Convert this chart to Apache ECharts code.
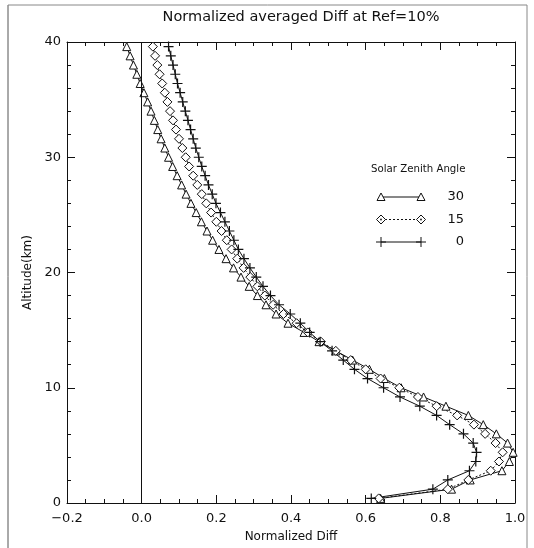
<!DOCTYPE html>
<html>
<head>
<meta charset="utf-8">
<script src="https://cdn.jsdelivr.net/npm/echarts@6/dist/echarts.min.js"></script>
<style>html,body{margin:0;padding:0;background:#fff;}#c{width:534px;height:548px;}</style>
</head>
<body>
<div id="c"></div>
<script>
// Altitude levels (km)
const altitudes = [0.4,1.2,2.0,2.8,3.6,4.4,5.2,6.0,6.8,7.6,8.4,9.2,10.0,10.8,11.6,12.4,13.2,14.0,14.8,15.6,
  16.4,17.2,18.0,18.8,19.6,20.4,21.2,22.0,22.8,23.6,24.4,25.2,26.0,26.8,27.6,28.4,29.2,30.0,30.8,31.6,
  32.4,33.2,34.0,34.8,35.6,36.4,37.2,38.0,38.8,39.6];
// Normalized Diff, solar zenith angle 30
const sza30 = [0.640,0.830,0.880,0.965,0.985,0.995,0.980,0.950,0.915,0.875,0.815,0.755,0.695,0.650,0.610,0.565,0.520,0.475,0.435,0.392,
  0.360,0.333,0.310,0.288,0.266,0.246,0.226,0.207,0.190,0.175,0.160,0.146,0.132,0.119,0.107,0.095,0.083,0.072,0.062,0.052,
  0.043,0.034,0.025,0.016,0.006,-0.004,-0.013,-0.022,-0.031,-0.040];
// Normalized Diff, solar zenith angle 15
const sza15 = [0.635,0.820,0.875,0.935,0.957,0.967,0.948,0.920,0.890,0.845,0.790,0.740,0.690,0.640,0.600,0.560,0.520,0.480,0.445,0.415,
  0.380,0.352,0.330,0.310,0.291,0.273,0.256,0.241,0.228,0.214,0.200,0.186,0.173,0.161,0.149,0.138,0.127,0.118,0.109,0.100,
  0.092,0.084,0.076,0.069,0.062,0.055,0.048,0.042,0.036,0.030];
// Normalized Diff, solar zenith angle 0
const sza0 = [0.615,0.780,0.820,0.878,0.895,0.897,0.888,0.862,0.825,0.790,0.745,0.692,0.648,0.605,0.570,0.540,0.510,0.478,0.450,0.425,
  0.398,0.368,0.345,0.325,0.307,0.290,0.274,0.259,0.247,0.235,0.223,0.211,0.199,0.189,0.179,0.170,0.161,0.153,0.145,0.138,
  0.131,0.124,0.117,0.110,0.103,0.096,0.090,0.084,0.078,0.072];
const legendNames = ['30','15','0'];
const xTicks = [-0.2,0.0,0.2,0.4,0.6,0.8,1.0];
const yTicks = [0,10,20,30,40];

const FONT = 'DejaVu Sans';
const INK = '#111';
const pairs = arr => altitudes.map((a,i)=>[arr[i], a]);
const crossPath = 'path://M5,0L5,10M0,5L10,5';

const chart = echarts.init(document.getElementById('c'), null, {renderer:'canvas'});

function xAxisCfg(pos, labels){
  return {
    type:'value', position:pos, min:xTicks[0], max:xTicks[xTicks.length-1], interval:0.2,
    axisLine:{show:true, onZero:false, lineStyle:{color:INK, width:1}},
    axisTick:{show:true, inside:true, length:8, lineStyle:{color:INK}},
    minorTick:{show:true, splitNumber:4, length:4, lineStyle:{color:INK}},
    splitLine:{show:false},
    axisLabel:{show:labels, color:INK, fontFamily:FONT, fontSize:13, margin:9,
      formatter: v => { const r = Math.round(v*10)/10; return (r<0?'\u2212':'') + Math.abs(r).toFixed(1); }},
    name: labels ? 'Normalized Diff' : '', nameLocation:'middle', nameGap:28,
    nameTextStyle:{color:INK, fontFamily:FONT, fontSize:12}
  };
}
function yAxisCfg(pos, labels){
  return {
    type:'value', position:pos, min:yTicks[0], max:yTicks[yTicks.length-1], interval:10,
    axisLine:{show:true, onZero:false, lineStyle:{color:INK, width:1}},
    axisTick:{show:true, inside:true, length:8, lineStyle:{color:INK}},
    minorTick:{show:true, splitNumber:5, length:4, lineStyle:{color:INK}},
    splitLine:{show:false},
    axisLabel:{show:labels, color:INK, fontFamily:FONT, fontSize:13, margin:6},
    name: labels ? 'Altitude(km)' : '', nameLocation:'middle', nameGap:18, nameRotate:90,
    nameTextStyle:{color:INK, fontFamily:FONT, fontSize:12}
  };
}

// Legend drawn as graphics (line with a symbol at each end)
const LX1 = 381, LX2 = 421, LT = 464, LY0 = 197, LDY = 22.5;
function legendRow(i){
  const y = LY0 + i*LDY;
  const els = [];
  els.push({type:'line', shape:{x1:LX1, y1:y, x2:LX2, y2:y},
    style:{stroke:INK, lineWidth:1, lineDash: i===1 ? [2,2] : null}});
  [LX1, LX2].forEach(x=>{
    if(i===0){
      els.push({type:'polygon', shape:{points:[[x-4,y+3.5],[x+4,y+3.5],[x,y-4]]}, style:{fill:'#fff', stroke:INK, lineWidth:1}});
    } else if(i===1){
      els.push({type:'polygon', shape:{points:[[x,y-4.5],[x+4.5,y],[x,y+4.5],[x-4.5,y]]}, style:{fill:'#fff', stroke:INK, lineWidth:1}});
      els.push({type:'circle', shape:{cx:x, cy:y, r:0.9}, style:{fill:INK}});
    } else {
      els.push({type:'line', shape:{x1:x, y1:y-5, x2:x, y2:y+5}, style:{stroke:INK, lineWidth:1}});
      els.push({type:'line', shape:{x1:x-5, y1:y, x2:x+5, y2:y}, style:{stroke:INK, lineWidth:1}});
    }
  });
  els.push({type:'text', style:{text:legendNames[i], x:LT, y:y, align:'right', verticalAlign:'middle',
    fontFamily:FONT, fontSize:13, fill:INK}});
  return els;
}

const graphics = [
  {type:'line', shape:{x1:8, y1:5, x2:8, y2:548}, style:{stroke:'#555', lineWidth:1}},
  {type:'line', shape:{x1:8, y1:5, x2:527, y2:5}, style:{stroke:'#888', lineWidth:1}},
  {type:'line', shape:{x1:527, y1:5, x2:527, y2:548}, style:{stroke:'#888', lineWidth:1}},
  {type:'text', style:{text:'Solar Zenith Angle', x:371, y:169, verticalAlign:'middle', fontFamily:FONT, fontSize:10.2, fill:INK}}
].concat(legendRow(0), legendRow(1), legendRow(2));

const option = {
  animation:false,
  backgroundColor:'#fff',
  title:{text:'Normalized averaged Diff at Ref=10%', left:301, top:10, textAlign:'center', padding:0,
    textStyle:{color:INK, fontFamily:FONT, fontSize:14.5, fontWeight:'normal'}},
  grid:{left:67, right:19, top:42, bottom:37},
  xAxis:[xAxisCfg('bottom', true), xAxisCfg('top', false)],
  yAxis:[yAxisCfg('left', true), yAxisCfg('right', false)],
  series:[
    {name:'30', type:'line', data:pairs(sza30), symbol:'triangle', symbolSize:[8,8], showAllSymbol:true,
      lineStyle:{color:INK, width:1}, itemStyle:{color:'#fff', borderColor:INK, borderWidth:1},
      markLine:{silent:true, symbol:'none', label:{show:false}, lineStyle:{color:INK, width:1, type:'solid'},
        data:[{xAxis:0}]}},
    {name:'15', type:'line', data:pairs(sza15), symbol:'diamond', symbolSize:[9,9], showAllSymbol:true,
      lineStyle:{color:INK, width:1, type:[2,2]}, itemStyle:{color:'#fff', borderColor:INK, borderWidth:1}},
    {name:'15dot', type:'scatter', data:pairs(sza15), symbol:'circle', symbolSize:2, itemStyle:{color:INK}, silent:true},
    {name:'0', type:'line', data:pairs(sza0), symbol:crossPath, symbolSize:[10,10], showAllSymbol:true,
      lineStyle:{color:INK, width:1}, itemStyle:{color:'none', borderColor:INK, borderWidth:1.2}}
  ],
  graphic: graphics
};
chart.setOption(option);
</script>
</body>
</html>
